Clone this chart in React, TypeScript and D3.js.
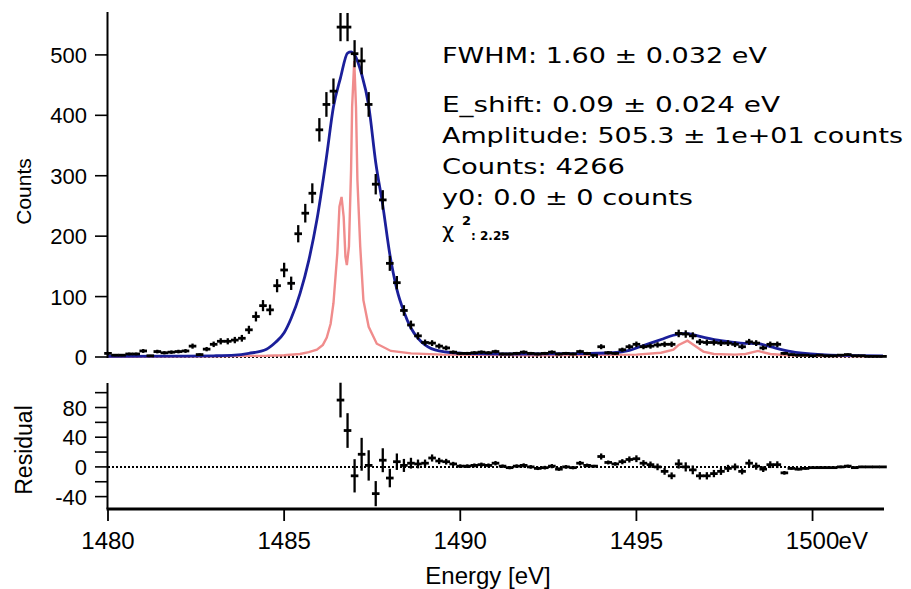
import React from 'react';
import * as d3 from 'd3';

// ---------- data ----------
const binStart = 1480;
const binWidth = 0.2;
const counts = [
  6, 3, 3, 5, 5, 10, 2, 9, 7, 8,
  9, 10, 18, 4, 13, 21, 26, 26, 28, 31,
  45, 67, 85, 78, 118, 144, 122, 204, 238, 271,
  376, 418, 440, 546, 546, 502, 490, 418, 286, 260,
  155, 123, 77, 53, 35, 24, 23, 18, 15, 8,
  6, 6, 7, 8, 7, 9, 5, 5, 6, 8,
  6, 5, 6, 8, 5, 6, 5, 9, 6, 3,
  17, 7, 6, 12, 17, 21, 17, 18, 20, 21,
  21, 39, 38, 35, 25, 24, 24, 23, 23, 21,
  17, 25, 23, 15, 21, 21, 6, 4, 3, 3,
  2, 3, 2, 2, 3, 4, 2, 2, 1, 1, 1,
];
const residualStartIndex = 33;
const residuals = [
  90, 49, -12, 17, 2, -36, 9, -15, 7, 2,
  5, 4, 5, 12, 8, 7, 4, 1, 1, 2,
  3, 2, 5, 1, -1, 1, 2, 0, -2, -1,
  1, -3, 0, -1, 5, 2, 1, 14, 6, 4,
  7, 10, 11, 5, 3, 0, -6, -12, 4, 0,
  -4, -12, -12, -9, -6, -2, 0, -6, 5, 1,
  -3, 3, 3, -8, -2, -3, -2, -1, -1, -1,
  -1, 0, 1, -1, 0, 0, 0, 0,
];
const fitEnergy = [
  1480.0, 1482.0, 1483.0, 1483.6, 1484.0, 1484.5, 1484.75, 1485.0, 1485.2, 1485.45,
  1485.7, 1485.93, 1486.2, 1486.4, 1486.6, 1486.8, 1486.9, 1487.0, 1487.2, 1487.4,
  1487.6, 1487.8, 1488.0, 1488.2, 1488.4, 1488.6, 1488.8, 1489.0, 1489.4, 1490.1,
  1491.5, 1493.4, 1494.35, 1494.8, 1495.1, 1495.7, 1496.05, 1496.4, 1496.8, 1497.4,
  1497.95, 1498.45, 1498.8, 1499.4, 1499.95, 1500.5, 1502.0,
];
const fitCounts = [
  1, 1.5, 2, 3, 6, 13, 24, 40, 64, 105,
  160, 227, 330, 414, 462, 503, 505, 500, 468, 416,
  322, 251, 170, 112, 75, 48, 31, 20, 10, 6,
  5, 5.5, 7, 11, 17, 29, 36, 39, 34, 27,
  23, 22, 17, 9, 5, 3, 2,
];
const specEnergy = [
  1480.0, 1483.0, 1484.5, 1485.0, 1485.45, 1485.7, 1485.93, 1486.1, 1486.21, 1486.32,
  1486.4, 1486.51, 1486.57, 1486.63, 1486.69, 1486.74, 1486.78, 1486.84, 1486.9, 1486.93,
  1486.99, 1487.04, 1487.08, 1487.16, 1487.25, 1487.4, 1487.63, 1488.03, 1488.6, 1489.5,
  1492.0, 1495.0, 1495.7, 1496.05, 1496.2, 1496.45, 1496.7, 1496.9, 1497.2, 1497.8,
  1498.1, 1498.45, 1498.8, 1499.3, 1500.5, 1502.0,
];
const specCounts = [
  0.5, 1, 2, 3, 5, 8, 12, 20, 32, 55,
  89, 172, 249, 265, 232, 166, 152, 183, 310, 414,
  490, 414, 293, 183, 94, 50, 22, 10, 6, 4,
  3, 4, 7, 12, 20, 27, 17, 9, 5, 4,
  5, 10, 5, 3, 1.5, 1,
];
const countTicks = [0, 100, 200, 300, 400, 500];
const residualTicks = [-40, -20, 0, 20, 40, 60, 80, 100];
const residualLabels = [-40, 0, 40, 80];
const energyTicks = [1480, 1485, 1490, 1495, 1500];
const statLines = [
  'FWHM: 1.60 \u00b1 0.032 eV',
  'E_shift: 0.09 \u00b1 0.024 eV',
  'Amplitude: 505.3 \u00b1 1e+01 counts',
  'Counts: 4266',
  'y0: 0.0 \u00b1 0 counts',
];
const chiLabel = '\u03c7';
const chiValue = ': 2.25';

// ---------- layout ----------
const W = 911;
const H = 589;
const xLeft = 108;
const xRight = 883;
const topY0 = 357;
const topY1 = 12;
const resBottom = 507;
const resTop = 383;
const axisY = 509;
const BLUE = '#1b1f9a';
const PINK = '#f08c8c';
const tickFont = 'Liberation Sans, Arial, Helvetica, sans-serif';
const statFont = 'DejaVu Sans, Verdana, sans-serif';

export default function App() {
  const x = d3.scaleLinear().domain([1480, 1502]).range([xLeft, xRight]);
  const yTop = d3.scaleLinear().domain([0, 571]).range([topY0, topY1]);
  const yRes = d3.scaleLinear().domain([-54, 113]).range([resBottom, resTop]);

  const pts = counts.map((c, i) => ({ e: binStart + binWidth * i, c }));
  const resPts = residuals.map((r, k) => {
    const i = residualStartIndex + k;
    return { e: binStart + binWidth * i, r, err: Math.sqrt(counts[i]) };
  });

  const fitLine = d3
    .line<number>()
    .x((_, i) => x(fitEnergy[i]))
    .y((d) => yTop(d))
    .curve(d3.curveMonotoneX)(fitCounts) as string;
  const specLine = d3
    .line<number>()
    .x((_, i) => x(specEnergy[i]))
    .y((d) => yTop(d))
    .curve(d3.curveLinear)(specCounts) as string;

  const statWidths = [325, 338, 461, 183, 251];
  const statY = [63, 112, 143, 174, 205];

  return (
    <svg
      width={W}
      height={H}
      style={{ position: 'absolute', left: 0, top: 0, background: '#fff' }}
    >
      <rect x={0} y={0} width={W} height={H} fill="#fff" />
      {/* top zero dotted */}
      <line x1={xLeft} x2={xRight + 1} y1={yTop(0)} y2={yTop(0)} stroke="#000" strokeWidth={2} strokeDasharray="2,2" />
      {/* pink spectrum */}
      <path d={specLine} fill="none" stroke={PINK} strokeWidth={2.4} />
      {/* blue fit */}
      <path d={fitLine} fill="none" stroke={BLUE} strokeWidth={2.8} />
      {/* data points */}
      {pts.map((p, i) => {
        const cx = x(p.e);
        const cy = yTop(p.c);
        const err = Math.sqrt(p.c);
        return (
          <g key={'d' + i}>
            <line x1={cx} x2={cx} y1={yTop(p.c + err)} y2={yTop(Math.max(0, p.c - err))} stroke="#000" strokeWidth={2.3} />
            <line x1={cx - 3.8} x2={cx + 3.8} y1={cy} y2={cy} stroke="#000" strokeWidth={2.8} />
          </g>
        );
      })}
      {/* top y axis */}
      <line x1={xLeft - 0.5} x2={xLeft - 0.5} y1={topY1} y2={topY0 + 1} stroke="#000" strokeWidth={2} />
      {countTicks.map((t) => (
        <g key={'ct' + t}>
          <line x1={xLeft - 13} x2={xLeft} y1={yTop(t)} y2={yTop(t)} stroke="#000" strokeWidth={1.6} />
          <text x={87} y={yTop(t) + 8} textAnchor="end" fontFamily={tickFont} fontSize={22} fill="#000">
            {t}
          </text>
        </g>
      ))}
      <text
        transform={`translate(31, ${(topY0 + topY1) / 2 + 7}) rotate(-90)`}
        textAnchor="middle"
        fontFamily={tickFont}
        fontSize={21}
        fill="#000"
      >
        Counts
      </text>

      {/* residual panel */}
      <line x1={xLeft} x2={xRight + 1} y1={yRes(0)} y2={yRes(0)} stroke="#000" strokeWidth={2} strokeDasharray="2,2" />
      {resPts.map((p, k) => {
        const cx = x(p.e);
        return (
          <g key={'r' + k}>
            <line x1={cx} x2={cx} y1={yRes(p.r + p.err)} y2={yRes(p.r - p.err)} stroke="#000" strokeWidth={2.3} />
            <line x1={cx - 3.8} x2={cx + 3.8} y1={yRes(p.r)} y2={yRes(p.r)} stroke="#000" strokeWidth={2.8} />
          </g>
        );
      })}
      <line x1={xLeft - 0.5} x2={xLeft - 0.5} y1={resTop} y2={axisY} stroke="#000" strokeWidth={2} />
      {residualTicks.map((t) => (
        <line key={'rt' + t} x1={xLeft - 13} x2={xLeft} y1={yRes(t)} y2={yRes(t)} stroke="#000" strokeWidth={1.6} />
      ))}
      {residualLabels.map((t) => (
        <text key={'rl' + t} x={87} y={yRes(t) + 8} textAnchor="end" fontFamily={tickFont} fontSize={22} fill="#000">
          {t}
        </text>
      ))}
      <text
        transform={`translate(32, 450) rotate(-90)`}
        textAnchor="middle"
        fontFamily={tickFont}
        fontSize={23}
        fill="#000"
      >
        Residual
      </text>

      {/* bottom axis */}
      <line x1={xLeft - 1.5} x2={xRight + 1} y1={axisY} y2={axisY} stroke="#000" strokeWidth={2.8} />
      {energyTicks.map((t) => (
        <g key={'et' + t}>
          <line x1={x(t)} x2={x(t)} y1={axisY} y2={axisY + 12} stroke="#000" strokeWidth={1.8} />
          <text x={x(t)} y={549} textAnchor="middle" fontFamily={tickFont} fontSize={24} fill="#000">
            {t}
          </text>
        </g>
      ))}
      <text x={x(1500) + 26} y={549} textAnchor="start" fontFamily={tickFont} fontSize={24} fill="#000">
        eV
      </text>
      <text x={488} y={584} textAnchor="middle" fontFamily={tickFont} fontSize={24} fill="#000">
        Energy [eV]
      </text>

      {/* stats */}
      {statLines.map((s, i) => (
        <text
          key={'s' + i}
          x={442}
          y={statY[i]}
          fontFamily={statFont}
          fontSize={21}
          textLength={statWidths[i]}
          lengthAdjust="spacingAndGlyphs"
          fill="#000"
        >
          {s}
        </text>
      ))}
      <text x={442} y={238} fontFamily={statFont} fontSize={21} fill="#000">
        {chiLabel}
      </text>
      <text x={462} y={225} fontFamily={statFont} fontSize={13} fontWeight="bold" fill="#000">
        2
      </text>
      <text x={471} y={240} fontFamily={statFont} fontSize={12} fontWeight="bold" fill="#000">
        {chiValue}
      </text>
    </svg>
  );
}
